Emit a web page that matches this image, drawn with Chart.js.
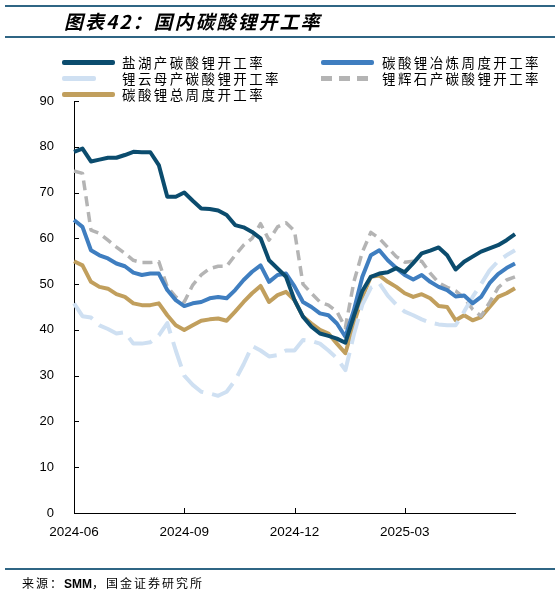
<!DOCTYPE html>
<html>
<head>
<meta charset="utf-8">
<script src="https://cdn.jsdelivr.net/npm/chart.js@4.4.1/dist/chart.umd.min.js"></script>
<style>
  body { margin: 0; background: #fff; }
  #wrap { position: relative; width: 559px; height: 597px; overflow: hidden; background: #fff; font-family: "Noto Sans CJK SC", sans-serif; color: #000; }
  .rule { position: absolute; left: 5px; width: 550px; height: 2px; background: #2f6584; }
  #title { position: absolute; left: 64px; top: 7px; font-size: 19px; line-height: 28px; font-weight: bold; font-style: italic; letter-spacing: 2px; white-space: nowrap; }
  .leg { position: absolute; height: 16px; }
  .leg .swatch { position: absolute; left: 0; top: 6px; width: 53px; height: 5px; border-radius: 2px; }
  .leg .txt { position: absolute; top: -1px; font-size: 13.5px; line-height: 18px; letter-spacing: 2.4px; white-space: nowrap; }
  #src { position: absolute; left: 22px; top: 574px; font-size: 12px; line-height: 18px; letter-spacing: 2px; white-space: nowrap; }
  #src b { font-family: "Liberation Sans", Arial, sans-serif; letter-spacing: 0; }
  canvas { position: absolute; left: 0; top: 0; }
</style>
</head>
<body>
<div id="wrap">
  <canvas id="myLineChart" width="559" height="597"></canvas>
  <div class="rule" style="top:5px"></div>
  <div id="title">图表42：国内碳酸锂开工率</div>
  <div class="rule" style="top:36px"></div>
  <div id="legend"></div>
  <div class="rule" style="top:568px"></div>
  <div id="src">来源：<b>SMM</b>，国金证券研究所</div>
</div>

<script>
// weekly observations
const weeks = [
  "2024-06-06","2024-06-13","2024-06-20","2024-06-27","2024-07-04","2024-07-11","2024-07-18","2024-07-25",
  "2024-08-01","2024-08-08","2024-08-15","2024-08-22","2024-08-29","2024-09-05","2024-09-12","2024-09-19",
  "2024-09-26","2024-10-03","2024-10-10","2024-10-17","2024-10-24","2024-10-31","2024-11-07","2024-11-14",
  "2024-11-21","2024-11-28","2024-12-05","2024-12-12","2024-12-19","2024-12-26","2025-01-02","2025-01-09",
  "2025-01-16","2025-01-23","2025-01-30","2025-02-06","2025-02-13","2025-02-20","2025-02-27","2025-03-06",
  "2025-03-13","2025-03-20","2025-03-27","2025-04-03","2025-04-10","2025-04-17","2025-04-24","2025-05-01",
  "2025-05-08","2025-05-15","2025-05-22","2025-05-29","2025-06-05"
];

const xTickLabels = ["2024-06", "2024-09", "2024-12", "2025-03"];
const xTickIdx = [0, 13, 26, 39];
const yTicks = [0, 10, 20, 30, 40, 50, 60, 70, 80, 90];

const seriesNames = [
  "盐湖产碳酸锂开工率",
  "碳酸锂冶炼周度开工率",
  "锂云母产碳酸锂开工率",
  "锂辉石产碳酸锂开工率",
  "碳酸锂总周度开工率"
];

const saltLake = [78.9,79.6,76.8,77.2,77.6,77.6,78.2,78.9,78.8,78.8,
  76,69.1,69.1,70,68.2,66.5,66.4,66.1,65.1,62.9,
  62.4,61.4,60,55.2,53.4,51.6,46.5,42.9,40.7,39.2,
  38.7,38.1,37.2,43,48.5,51.6,52.3,52.6,53.5,52.6,
  54.6,56.7,57.3,58,56.3,53.2,54.9,56,57.1,57.8,
  58.5,59.6,60.9];

const smelting = [64,62.5,57.4,56.3,55.6,54.5,53.9,52.5,52,52.3,
  52.3,48.7,46.5,45.2,45.8,46.1,46.9,47.2,46.9,48.7,
  50.9,52.7,54.1,50.5,52,52.3,49.5,46.1,45,43.6,
  43.2,41.4,38.5,44.3,51.6,56.3,57.4,55.2,53.5,52,
  51,52,50.5,49.4,48.7,47.3,47.5,45.8,47.2,50.2,
  52.2,53.5,54.5];

const lepidolite = [45.8,43,42.7,41,40.2,39.2,39.5,37,37,37.3,
  38.8,41.5,35.5,30,28,26.5,26.1,25.6,26.5,29,
  32.5,36.5,35.5,34.2,34.5,35.5,35.5,37.8,37.6,37,
  35.5,33.8,31.2,39,45.5,49.2,50.2,47.5,45.5,44,
  43.2,42.3,41.6,41.2,41,41,44,47.2,50,53,
  55,56.3,57.4];

const spodumene = [74.7,74.2,61.8,61.1,59.6,58.1,56.7,55.2,54.7,54.7,
  54.9,49.4,47.2,46.1,49.8,52,53.4,53.9,53.9,56.3,
  58.5,60,63.2,59.6,62.5,63.4,61.6,50,48,46.1,
  45.4,44,40.5,50.5,57,61.3,60,58,56,54.8,
  55,55,52.4,50.3,49.3,48.5,47,44.5,43,46,
  49.2,50.9,51.6];

const totalWeekly = [55,54.1,50.5,49.4,49,47.8,47.2,45.8,45.4,45.4,
  45.8,43.2,41,40,41,42,42.3,42.5,42,44,
  46.1,48,49.6,46.1,47.6,48.3,46.5,42.9,41.4,40,
  39.2,37,34.9,41.4,47.2,51.6,51.9,50.5,49.4,48,
  47.2,47.8,46.9,45.2,45,42.1,43.2,42.1,42.8,45,
  47.2,48,49.1];

const seriesValues = [saltLake, smelting, lepidolite, spodumene, totalWeekly];
const seriesColors = ["#0b4c6e", "#3f7ec0", "#cfe0f2", "#b4b4b4", "#c19f5d"];
const seriesDash = [[], [], [26, 9], [10, 6], []];

// legend: 2 columns, filled row by row
function buildLegend() {
  const legend = document.getElementById("legend");
  const colX = [62, 321];
  const rowY = [54, 70, 86];
  seriesNames.forEach(function (name, i) {
    const item = document.createElement("div");
    item.className = "leg";
    item.style.left = colX[i % 2] + "px";
    item.style.top = rowY[Math.floor(i / 2)] + "px";
    const sw = document.createElement("div");
    sw.className = "swatch";
    if (i === 3) {
      sw.style.background = "repeating-linear-gradient(to right," + seriesColors[i] + " 0 11px, transparent 11px 18px)";
      sw.style.width = "47px";
      sw.style.borderRadius = "0";
    } else if (i === 2) {
      sw.style.background = seriesColors[i];
      sw.style.width = "34px";
    } else {
      sw.style.background = seriesColors[i];
    }
    const txt = document.createElement("div");
    txt.className = "txt";
    txt.style.left = (i % 2 === 0 ? 60 : 61) + "px";
    txt.innerText = name;
    item.appendChild(sw);
    item.appendChild(txt);
    legend.appendChild(item);
  });
}

// small inward tick marks on both axes
const inwardTicks = {
  id: "inwardTicks",
  afterDraw(chart) {
    const ctx = chart.ctx;
    const a = chart.chartArea;
    const x = chart.scales.x;
    const y = chart.scales.y;
    ctx.save();
    ctx.strokeStyle = "#000";
    ctx.lineWidth = 1;
    ctx.beginPath();
    yTicks.forEach(function (v) {
      const py = Math.round(y.getPixelForValue(v)) + 0.5;
      ctx.moveTo(a.left, py);
      ctx.lineTo(a.left + 5, py);
    });
    xTickIdx.forEach(function (i) {
      if (i === 0) return;
      const px = Math.round(x.getPixelForValue(i)) + 0.5;
      ctx.moveTo(px, a.bottom);
      ctx.lineTo(px, a.bottom - 5);
    });
    ctx.stroke();
    ctx.restore();
  }
};

function drawChart() {
  const ctx = document.getElementById("myLineChart").getContext("2d");
  const datasets = seriesNames.map(function (name, i) {
    return {
      label: name,
      data: seriesValues[i],
      borderColor: seriesColors[i],
      backgroundColor: seriesColors[i],
      borderWidth: i === 3 ? 3.5 : 4,
      borderDash: seriesDash[i],
      borderCapStyle: "butt",
      borderJoinStyle: "round",
      pointRadius: 0,
      tension: 0,
      fill: false
    };
  });

  new Chart(ctx, {
    type: "line",
    data: { labels: weeks, datasets: datasets },
    options: {
      responsive: false,
      animation: false,
      layout: { padding: { top: 101, right: 44, bottom: 0, left: 0 } },
      plugins: {
        legend: { display: false },
        tooltip: { enabled: false }
      },
      scales: {
        x: {
          offset: false,
          grid: { display: false },
          border: { display: true, color: "#000", width: 1 },
          ticks: {
            autoSkip: false,
            maxRotation: 0,
            padding: 3,
            color: "#000",
            font: { family: "'Liberation Sans', Arial, sans-serif", size: 13.5 },
            callback: function (val, index) {
              const k = xTickIdx.indexOf(index);
              return k >= 0 ? xTickLabels[k] : null;
            }
          },
          afterFit: function (s) { s.height = 84; }
        },
        y: {
          min: 0,
          max: 90,
          grid: { display: false },
          border: { display: true, color: "#000", width: 1 },
          ticks: {
            stepSize: 10,
            padding: 12,
            color: "#000",
            font: { family: "'Liberation Sans', Arial, sans-serif", size: 13 }
          },
          afterFit: function (s) { s.width = 74; }
        }
      }
    },
    plugins: [inwardTicks]
  });
}

document.addEventListener("DOMContentLoaded", function () {
  buildLegend();
  drawChart();
});
</script>
</body>
</html>
